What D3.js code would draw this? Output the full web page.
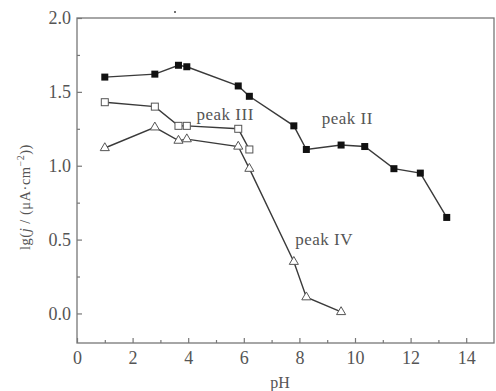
<!DOCTYPE html>
<html>
<head>
<meta charset="utf-8">
<script src="https://cdn.jsdelivr.net/npm/d3@7"></script>
<style>
  body { margin: 0; background: #fff; }
  text { font-family: "Liberation Serif", "DejaVu Serif", serif; fill: #555; }
</style>
</head>
<body>
<div id="chart"></div>
<script>
// values
var phII  = [1.0, 2.8, 3.65, 3.95, 5.8, 6.2, 7.8, 8.25, 9.5, 10.35, 11.4, 12.35, 13.3];
var lgII  = [1.60, 1.62, 1.68, 1.67, 1.54, 1.47, 1.27, 1.11, 1.14, 1.13, 0.98, 0.95, 0.65];
var phIII = [1.0, 2.8, 3.65, 3.95, 5.8, 6.2];
var lgIII = [1.43, 1.40, 1.27, 1.27, 1.25, 1.11];
var phIV  = [1.0, 2.8, 3.65, 3.95, 5.8, 6.2, 7.8, 8.25, 9.5];
var lgIV  = [1.12, 1.26, 1.17, 1.18, 1.13, 0.98, 0.35, 0.11, 0.01];
var xTicks = [0, 2, 4, 6, 8, 10, 12, 14];
var yTicks = [0.0, 0.5, 1.0, 1.5, 2.0];

var width = 496, height = 391;
var mLeft = 77, mRight = 494, mTop = 18, mBottom = 343;

var x = d3.scaleLinear().domain([0, 15]).range([mLeft, mRight]);
var y = d3.scaleLinear().domain([-0.2, 2.0]).range([mBottom, mTop]);

var svg = d3.select("#chart").append("svg")
    .attr("width", width)
    .attr("height", height);

// frame
svg.append("rect")
    .attr("x", mLeft).attr("y", mTop)
    .attr("width", mRight - mLeft).attr("height", mBottom - mTop)
    .attr("fill", "none").attr("stroke", "#777").attr("stroke-width", 1.3);

// axes, ticks pointing in
svg.append("g")
    .attr("transform", "translate(0," + mBottom + ")")
    .call(d3.axisBottom(x).tickValues(xTicks).tickSize(-5).tickPadding(8).tickFormat(d3.format("d")));
svg.append("g")
    .attr("transform", "translate(0," + mBottom + ")")
    .call(d3.axisBottom(x).tickValues(d3.range(1, 15, 2)).tickSize(-3).tickFormat(""));

svg.append("g")
    .attr("transform", "translate(" + mLeft + ",0)")
    .call(d3.axisLeft(y).tickValues(yTicks).tickSize(-5).tickPadding(6).tickFormat(d3.format(".1f")));
svg.append("g")
    .attr("transform", "translate(" + mLeft + ",0)")
    .call(d3.axisLeft(y).tickValues([0.25, 0.75, 1.25, 1.75]).tickSize(-3).tickFormat(""));

svg.selectAll(".domain").remove();
svg.selectAll(".tick line").attr("stroke", "#777").attr("stroke-width", 1.2);
svg.selectAll(".tick text").style("font-size", "18px").attr("fill", "#666")
    .style("font-family", "'Liberation Serif', serif");

// axis titles
svg.append("text")
    .attr("x", x(7.3)).attr("y", 388)
    .attr("text-anchor", "middle")
    .style("font-size", "16px")
    .text("pH");

var yl = svg.append("text")
    .attr("transform", "translate(30," + 197 + ")rotate(-90)")
    .attr("text-anchor", "middle")
    .style("font-size", "14.5px")
    .style("letter-spacing", "0.5px");
yl.append("tspan").text("lg(");
yl.append("tspan").style("font-style", "italic").text("j");
yl.append("tspan").text(" / (μA·cm");
yl.append("tspan").attr("dy", -6).style("font-size", "10px").text("−2");
yl.append("tspan").attr("dy", 6).text("))");

var line = d3.line()
    .x(function(d) { return x(d[0]); })
    .y(function(d) { return y(d[1]); });

function series(ph, lg) { return ph.map(function(p, i) { return [p, lg[i]]; }); }

var dII = series(phII, lgII), dIII = series(phIII, lgIII), dIV = series(phIV, lgIV);

[dII, dIII, dIV].forEach(function(d) {
  svg.append("path")
      .datum(d)
      .attr("d", line)
      .attr("fill", "none")
      .attr("stroke", "#3a3a3a")
      .attr("stroke-width", 1.4);
});

var s = 7;
svg.selectAll(".sqII").data(dII).enter().append("rect")
    .attr("x", function(d) { return x(d[0]) - s / 2; })
    .attr("y", function(d) { return y(d[1]) - s / 2; })
    .attr("width", s).attr("height", s)
    .attr("fill", "#111");

svg.selectAll(".sqIII").data(dIII).enter().append("rect")
    .attr("x", function(d) { return x(d[0]) - s / 2; })
    .attr("y", function(d) { return y(d[1]) - s / 2; })
    .attr("width", s).attr("height", s)
    .attr("fill", "#fff").attr("stroke", "#555").attr("stroke-width", 1);

var tri = d3.symbol().type(d3.symbolTriangle).size(36);
svg.selectAll(".triIV").data(dIV).enter().append("path")
    .attr("transform", function(d) { return "translate(" + x(d[0]) + "," + y(d[1]) + ")"; })
    .attr("d", tri)
    .attr("fill", "#fff").attr("stroke", "#555").attr("stroke-width", 1);

// peak labels
var labels = [["peak III", 4.3, 1.31], ["peak II", 8.8, 1.285], ["peak IV", 7.85, 0.465]];
svg.selectAll(".lab").data(labels).enter().append("text")
    .attr("x", function(d) { return x(d[1]); })
    .attr("y", function(d) { return y(d[2]); })
    .style("font-size", "17px")
    .style("letter-spacing", "0.5px")
    .attr("fill", "#555")
    .text(function(d) { return d[0]; });

// small speck above the frame
svg.append("circle").attr("cx", 175).attr("cy", 12).attr("r", 1).attr("fill", "#444");
</script>
</body>
</html>
